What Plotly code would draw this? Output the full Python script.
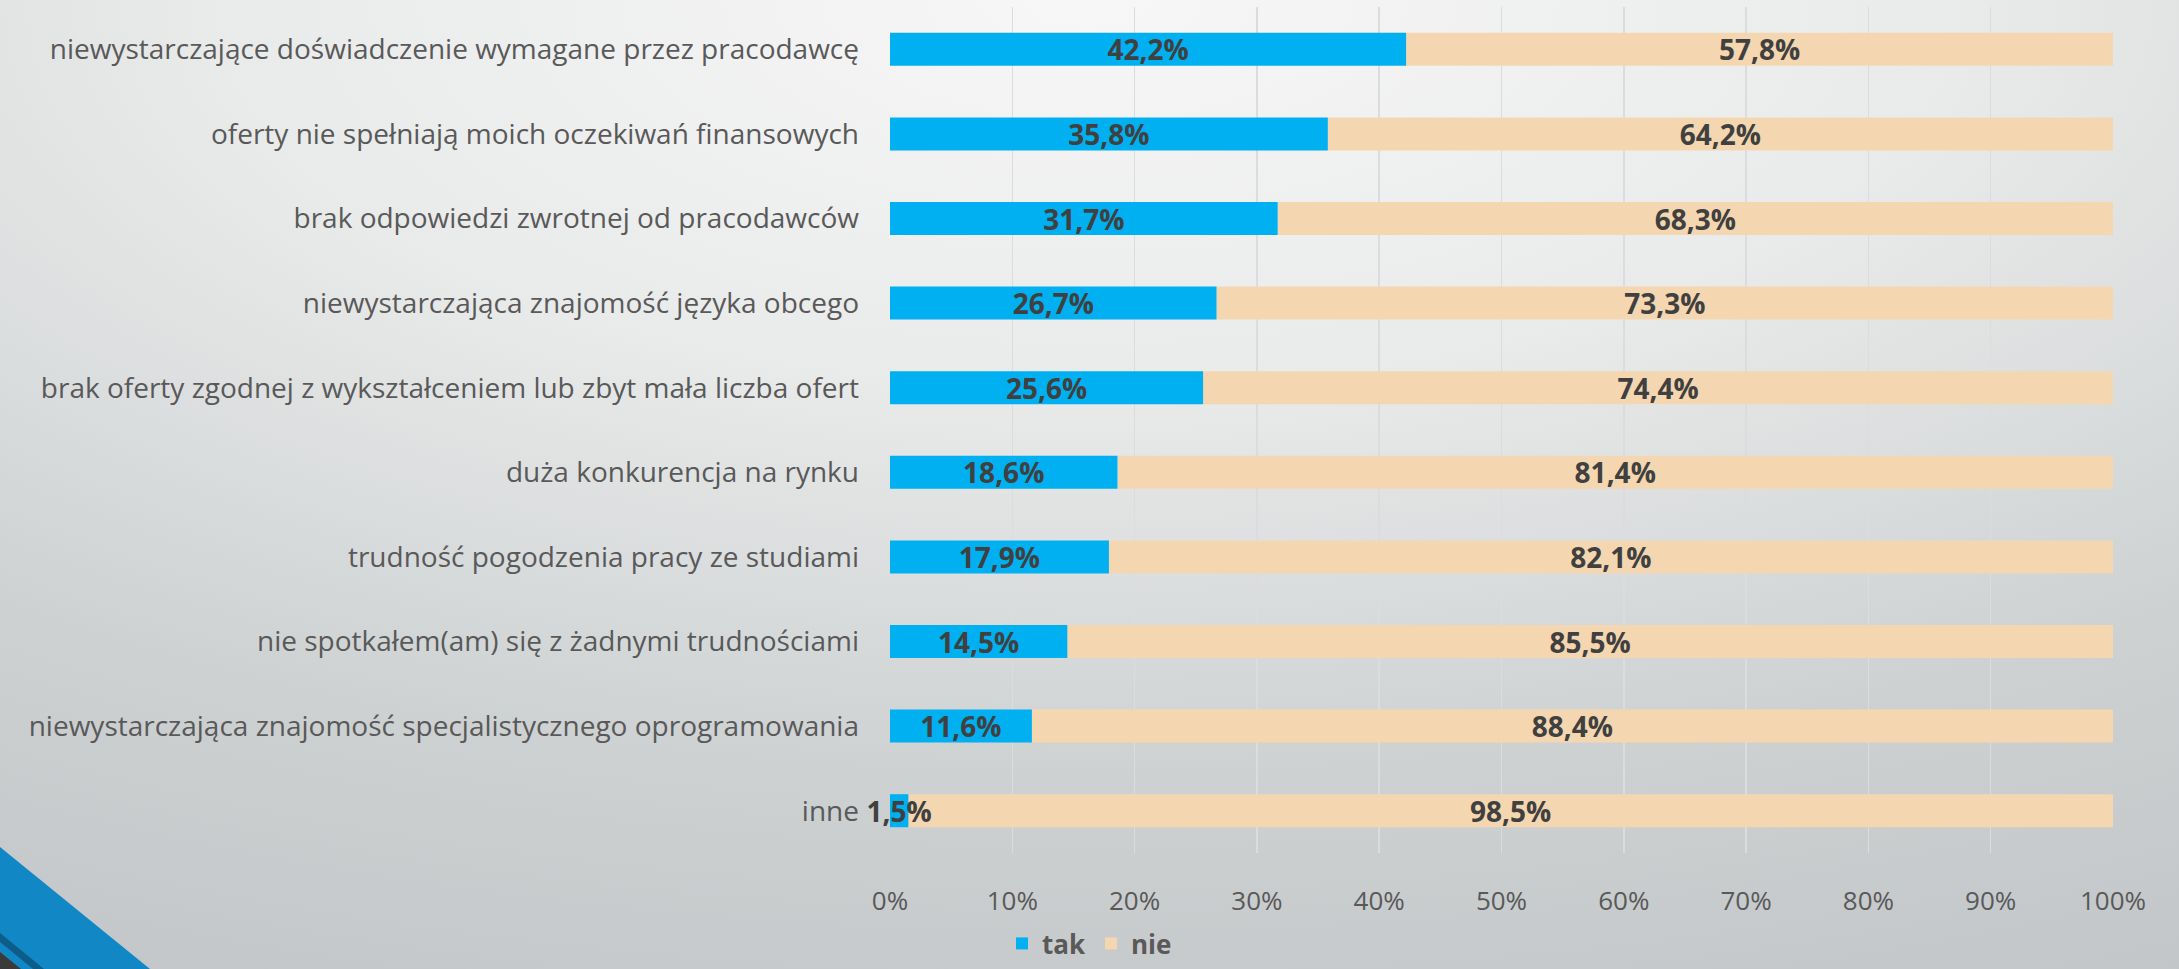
import base64
import plotly.graph_objects as go

categories = [
    "niewystarczające doświadczenie wymagane przez pracodawcę",
    "oferty nie spełniają moich oczekiwań finansowych",
    "brak odpowiedzi zwrotnej od pracodawców",
    "niewystarczająca znajomość języka obcego",
    "brak oferty zgodnej z wykształceniem lub zbyt mała liczba ofert",
    "duża konkurencja na rynku",
    "trudność pogodzenia pracy ze studiami",
    "nie spotkałem(am) się z żadnymi trudnościami",
    "niewystarczająca znajomość specjalistycznego oprogramowania",
    "inne",
]
tak = [42.2, 35.8, 31.7, 26.7, 25.6, 18.6, 17.9, 14.5, 11.6, 1.5]
nie = [57.8, 64.2, 68.3, 73.3, 74.4, 81.4, 82.1, 85.5, 88.4, 98.5]
x_ticks = [0, 10, 20, 30, 40, 50, 60, 70, 80, 90, 100]
x_ticklabels = [f"{v}%" for v in x_ticks]

W, H = 2179, 969
L, R, T, B = 890, 66, 7, 116
PW, PH = W - L - R, H - T - B

FONT = "Open Sans"
TXT = "#595959"
LBL = "#404040"


def pct(v):
    return f"{v:.1f}%".replace(".", ",")


svg = f"""<svg xmlns='http://www.w3.org/2000/svg' width='{W}' height='{H}' viewBox='0 0 {W} {H}' preserveAspectRatio='none'>
<defs>
<radialGradient id='g' cx='0.5' cy='0' r='1.15' fx='0.5' fy='0' gradientUnits='objectBoundingBox'>
<stop offset='0' stop-color='#F7F7F7'/>
<stop offset='0.35' stop-color='#E9EAEA'/>
<stop offset='0.7' stop-color='#CDD1D2'/>
<stop offset='1' stop-color='#C1C5C7'/>
</radialGradient>
</defs>
<rect x='0' y='0' width='{W}' height='{H}' fill='url(#g)'/>
<polygon points='0,847 150,969 0,969' fill='#1287C5'/>
<polygon points='0,933 44,969 33,969 0,942' fill='#0D5D8A'/>
<polygon points='0,952 21,969 0,969' fill='#3A3A3A'/>
</svg>"""
svg_uri = "data:image/svg+xml;base64," + base64.b64encode(svg.encode("utf-8")).decode("ascii")

fig = go.Figure()
# "nie" first (drawn below) so that the "tak" labels can overflow on top of it
fig.add_trace(go.Bar(
    y=categories, x=nie, base=tak, name="nie", orientation="h", legendrank=2,
    marker=dict(color="#F4D7B0", line=dict(width=0)),
    text=[pct(v) for v in nie], textposition="inside", insidetextanchor="middle",
    textangle=0,
    textfont=dict(family=FONT, size=28, color=LBL, weight="bold"),
    cliponaxis=False, hoverinfo="skip",
))
fig.add_trace(go.Bar(
    y=categories, x=tak, name="tak", orientation="h", legendrank=1,
    marker=dict(color="#00B0F0", line=dict(width=0)),
    text=[pct(v) for v in tak], textposition="inside", insidetextanchor="middle",
    textangle=0,
    textfont=dict(family=FONT, size=28, color=LBL, weight="bold"),
    cliponaxis=False, hoverinfo="skip",
))

fig.update_layout(
    width=W, height=H,
    barmode="overlay", bargap=0.61,
    margin=dict(l=L, r=R, t=T, b=B, pad=0, autoexpand=False),
    paper_bgcolor="#D8DBDC", plot_bgcolor="rgba(0,0,0,0)",
    font=dict(family=FONT, color=TXT),
    uniformtext=dict(mode="show", minsize=28),
    showlegend=True,
    legend=dict(
        orientation="h", x=(W / 2 - L) / PW, xanchor="center",
        y=(PH - (H - 2 - T)) / PH, yanchor="bottom",
        font=dict(family=FONT, size=26, color=TXT, weight="bold"),
        itemsizing="constant", itemwidth=30,
        bgcolor="rgba(0,0,0,0)",
    ),
    xaxis=dict(
        range=[0, 100], tickvals=x_ticks, ticktext=x_ticklabels,
        showgrid=True, gridcolor="#DADCDD", gridwidth=1.5,
        zeroline=False, showline=False, ticks="",
        tickfont=dict(family=FONT, size=26, color=TXT),
        ticklabelstandoff=30, fixedrange=True,
    ),
    yaxis=dict(
        autorange="reversed", showgrid=False, zeroline=False, showline=False,
        ticks="", tickfont=dict(family=FONT, size=28, color=TXT),
        ticklabelstandoff=30, fixedrange=True,
    ),
    images=[dict(
        source=svg_uri, xref="paper", yref="paper",
        x=-L / PW, y=1 + T / PH, sizex=W / PW, sizey=H / PH,
        xanchor="left", yanchor="top", sizing="stretch", layer="below",
    )],
)

fig.write_html(
    "out.html",
    config={"displayModeBar": False, "staticPlot": True},
    post_script="document.body.style.margin='0';document.body.style.overflow='hidden';",
)
